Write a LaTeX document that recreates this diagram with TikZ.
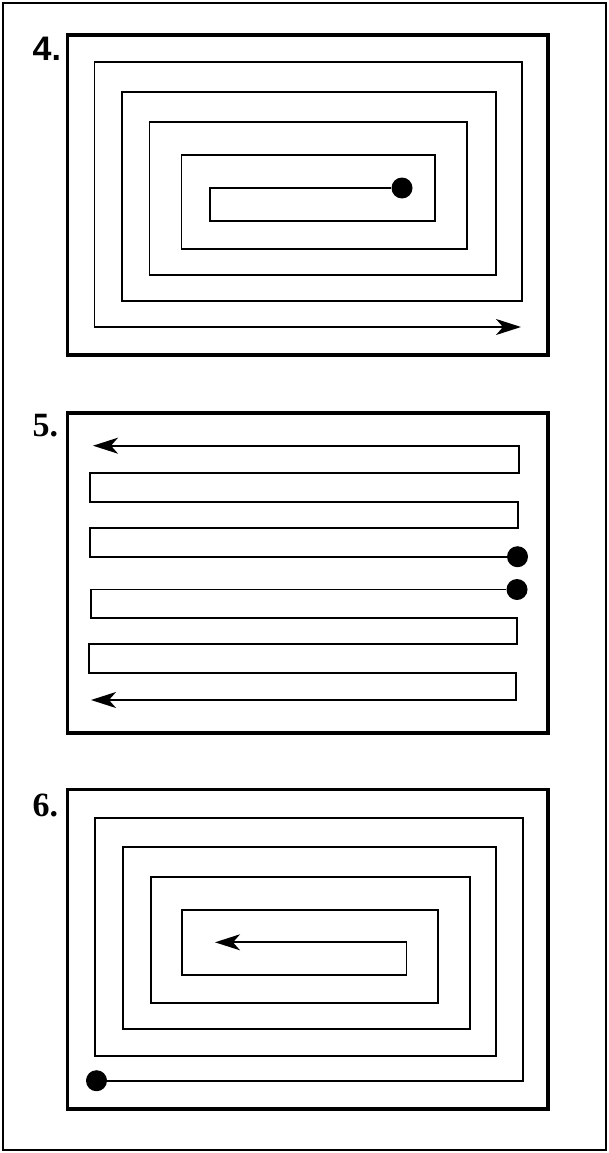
\documentclass[tikz,border=0pt]{standalone}
\usepackage{fontspec}
\setmainfont{Liberation Serif}
\setsansfont{Liberation Sans}
\usetikzlibrary{arrows.meta}

\begin{document}
\begin{tikzpicture}[x=1pt, y=-1pt]
            \tikzstyle{panel} = [draw, line width=3.6pt]
            \tikzstyle{track} = [draw, line width=1.7pt, line join=miter]
            \tikzstyle{spot} = [circle, fill, inner sep=0pt, minimum size=21pt]
            \tikzstyle{tag} = [anchor=base west, inner sep=0pt, font=\fontsize{34}{34}\selectfont\bfseries]
            \tikzstyle{tip} = [-{Stealth[length=25pt, width=16pt, inset=7pt]}]

            \useasboundingbox (0,0) rectangle (609,1153);
            \draw[line width=1.6pt] (3,3) rectangle (606,1150);

            % 4: spiral out
            \node [tag] (n4) at (32.5,60.7) {\sffamily 4.};
            \draw[panel] (67.5,35) rectangle (548,355);
            \node [spot] (d4) at (402,188) {};
            \path [track, tip] (d4) -- (210,188) -- (210,221) -- (435,221) -- (435,155)
                -- (181.5,155) -- (181.5,249) -- (467,249) -- (467,122) -- (149.5,122)
                -- (149.5,275) -- (496,275) -- (496,92) -- (122,92) -- (122,301)
                -- (522,301) -- (522,62) -- (94.5,62) -- (94.5,327) -- (521,327);

            % 5: back and forth
            \node [tag] (n5) at (32.5,436.7) {5.};
            \draw[panel] (67.5,412.7) rectangle (548,733);
            \node [spot] (d5a) at (517.5,556.7) {};
            \node [spot] (d5b) at (517,589.5) {};
            \path [track, tip] (d5a) -- (90,556.7) -- (90,527.7) -- (518,527.7) -- (518,501.7)
                -- (90,501.7) -- (90,473.3) -- (519,473.3) -- (519,445.7) -- (93,445.7);
            \path [track, tip] (d5b) -- (91,589.5) -- (91,618.3) -- (517,618.3) -- (517,644.3)
                -- (89,644.3) -- (89,672.7) -- (516,672.7) -- (516,700) -- (91,700);

            % 6: spiral in
            \node [tag] (n6) at (32.5,816.7) {6.};
            \draw[panel] (67.5,789.5) rectangle (548,1109);
            \node [spot] (d6) at (96.5,1080.7) {};
            \path [track, tip] (d6) -- (523,1080.7) -- (523,817.7) -- (95,817.7) -- (95,1055.7)
                -- (496,1055.7) -- (496,846.7) -- (123,846.7) -- (123,1029.3) -- (470,1029.3)
                -- (470,876.7) -- (150.7,876.7) -- (150.7,1003.3) -- (437.7,1003.3) -- (437.7,910)
                -- (181.7,910) -- (181.7,975) -- (406.6,975) -- (406.6,942.3) -- (215,942.3);
        \end{tikzpicture}
\end{document}
